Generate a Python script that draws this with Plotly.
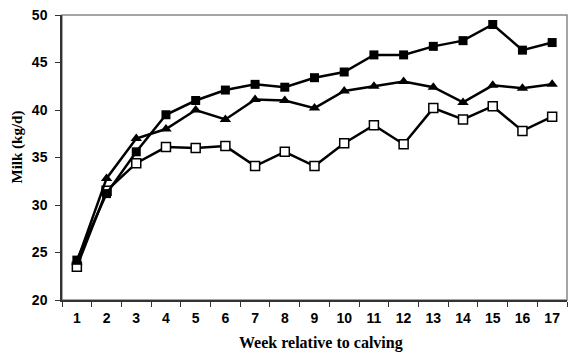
import plotly.graph_objects as go

weeks = [str(w) for w in range(1, 18)]
filled_sq = [24.2, 31.2, 35.6, 39.5, 41.0, 42.1, 42.7, 42.4, 43.4, 44.0, 45.8, 45.8, 46.7, 47.3, 49.0, 46.3, 47.1]
triangle = [24.0, 32.8, 37.0, 38.0, 40.0, 39.0, 41.1, 41.0, 40.2, 42.0, 42.5, 43.0, 42.4, 40.8, 42.6, 42.3, 42.7]
open_sq = [23.5, 31.5, 34.4, 36.1, 36.0, 36.2, 34.1, 35.6, 34.1, 36.5, 38.4, 36.4, 40.2, 39.0, 40.4, 37.8, 39.3]

fig = go.Figure()
fig.add_trace(go.Scatter(x=weeks, y=open_sq, mode="lines+markers",
                         line=dict(color="black", width=2.5),
                         marker=dict(symbol="square", size=9, color="white",
                                     line=dict(color="black", width=1.5))))
fig.add_trace(go.Scatter(x=weeks, y=triangle, mode="lines+markers",
                         line=dict(color="black", width=2.5),
                         marker=dict(symbol="triangle-up", size=10, color="black")))
fig.add_trace(go.Scatter(x=weeks, y=filled_sq, mode="lines+markers",
                         line=dict(color="black", width=2.5),
                         marker=dict(symbol="square", size=9, color="black")))

tickfont = dict(family="Liberation Sans, Arial", size=14, color="black", weight="bold")
fig.update_layout(
    width=580, height=359,
    margin=dict(l=54, r=21, t=7, b=67, autoexpand=False),
    paper_bgcolor="white", plot_bgcolor="white",
    showlegend=False,
    xaxis=dict(type="category", tickson="boundaries", range=[-0.5, 16.5],
               ticks="outside", ticklen=5, ticklabelstandoff=4,
               tickcolor="#333", showline=True, linecolor="#333", linewidth=1.5,
               showgrid=False, automargin=False, tickfont=tickfont),
    yaxis=dict(range=[20, 50], dtick=5, ticks="outside", ticklen=5, ticklabelstandoff=5,
               ticklabeloverflow="allow",
               tickcolor="#333", showline=True, linecolor="#333", linewidth=1.5,
               showgrid=False, zeroline=False, automargin=False, tickfont=tickfont),
)
fig.add_annotation(text="<b>Week relative to calving</b>", xref="paper", yref="paper",
                   x=0.5, y=0, xanchor="center", yanchor="middle", xshift=6, yshift=-43,
                   showarrow=False,
                   font=dict(family="Liberation Serif, Times New Roman", size=16, color="black"))
fig.add_annotation(text="<b>Milk (kg/d)</b>", xref="paper", yref="paper",
                   x=0, y=0.5, xanchor="center", yanchor="middle", xshift=-45, yshift=10,
                   textangle=-90, showarrow=False,
                   font=dict(family="Liberation Serif, Times New Roman", size=15, color="black"))
fig.add_shape(type="rect", xref="paper", yref="paper", x0=0, x1=1, y0=0, y1=1,
              line=dict(color="#888", width=1.5), layer="below")

fig.write_html("out.html")
